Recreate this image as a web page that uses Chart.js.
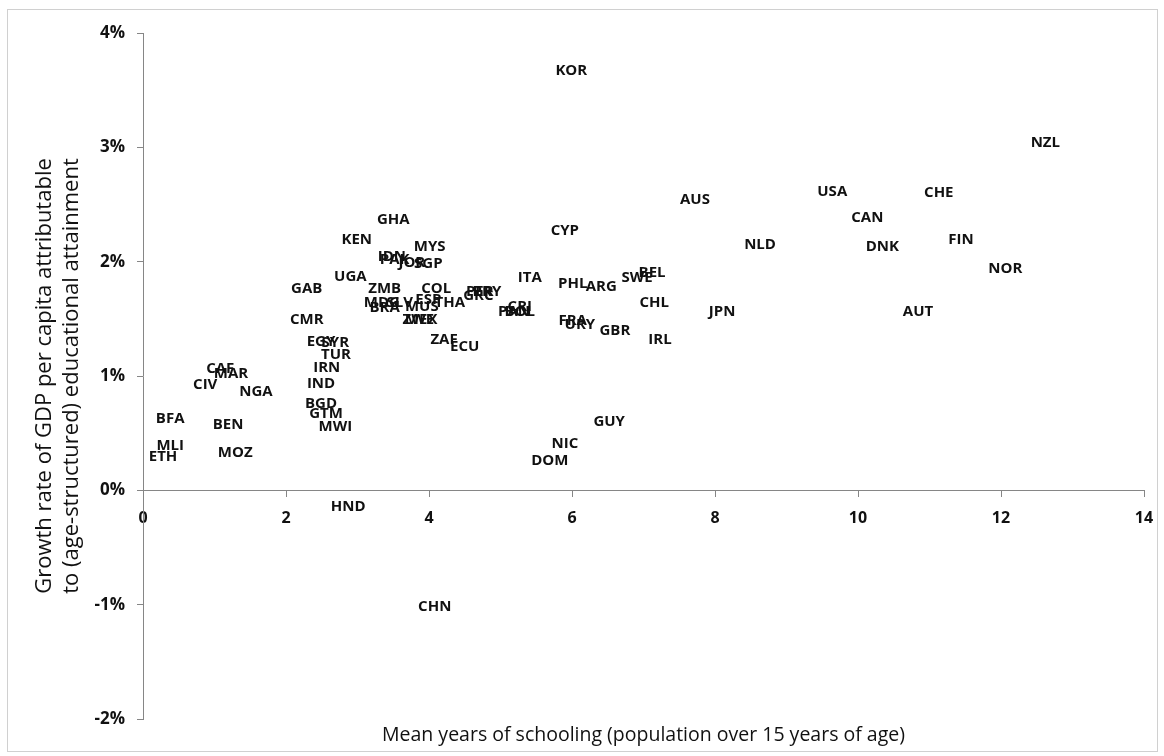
<!DOCTYPE html>
<html>
<head>
<meta charset="utf-8">
<title>Growth rate of GDP per capita vs mean years of schooling</title>
<script src="https://cdn.jsdelivr.net/npm/chart.js@4"></script>
<style>
  html, body { margin: 0; padding: 0; background: #fff; }
  canvas { display: block; }
</style>
</head>
<body>
<canvas id="schoolingChart" width="1164" height="756"></canvas>
<script>
// Country codes, mean years of schooling and growth rate (%)
const countries = [
  "KOR", "NZL", "USA", "CHE", "AUS", "CAN", "CYP", "NLD", "DNK", "FIN",
  "NOR", "AUT", "JPN", "CHL", "SWE", "BEL", "IRL", "GBR", "FRA", "URY",
  "PHL", "ARG", "ITA", "GUY", "NIC", "DOM", "CHN", "HND", "GHA", "KEN",
  "IDN", "PAK", "MYS", "JOR", "SGP", "UGA", "GAB", "ZMB", "COL", "ESP",
  "THA", "MDG", "BRA", "SLV", "MUS", "ZWE", "MEX", "PER", "PRY", "GRC",
  "CRI", "PAN", "BOL", "CMR", "EGY", "SYR", "TUR", "ZAF", "ECU", "IRN",
  "IND", "BGD", "GTM", "MWI", "CAF", "MAR", "CIV", "NGA", "BFA", "BEN",
  "MLI", "ETH", "MOZ"
];
const schoolingYears = [
  5.99, 12.62, 9.64, 11.13, 7.72, 10.13, 5.90, 8.63, 10.34, 11.44,
  12.06, 10.84, 8.10, 7.15, 6.91, 7.12, 7.23, 6.60, 6.01, 6.11,
  6.01, 6.41, 5.41, 6.52, 5.90, 5.69, 4.08, 2.87, 3.50, 2.99,
  3.48, 3.52, 4.01, 3.76, 3.99, 2.90, 2.29, 3.38, 4.10, 3.99,
  4.29, 3.34, 3.38, 3.59, 3.90, 3.85, 3.89, 4.71, 4.81, 4.69,
  5.27, 5.19, 5.27, 2.29, 2.49, 2.69, 2.70, 4.21, 4.50, 2.57,
  2.49, 2.49, 2.56, 2.69, 1.08, 1.23, 0.87, 1.58, 0.38, 1.19,
  0.38, 0.28, 1.29
];
const growthRate = [
  3.67, 3.04, 2.61, 2.60, 2.54, 2.38, 2.27, 2.15, 2.13, 2.19,
  1.94, 1.56, 1.56, 1.64, 1.86, 1.90, 1.32, 1.40, 1.48, 1.45,
  1.81, 1.78, 1.86, 0.60, 0.41, 0.26, -1.02, -0.14, 2.37, 2.19,
  2.04, 2.02, 2.13, 1.99, 1.98, 1.87, 1.76, 1.76, 1.76, 1.67,
  1.64, 1.64, 1.60, 1.64, 1.61, 1.49, 1.49, 1.74, 1.74, 1.70,
  1.61, 1.56, 1.56, 1.49, 1.30, 1.29, 1.19, 1.32, 1.26, 1.07,
  0.93, 0.76, 0.67, 0.56, 1.06, 1.02, 0.92, 0.86, 0.63, 0.57,
  0.39, 0.29, 0.33
];

// Axis ranges and tick steps
const xRange = [0, 14];
const xStep = 2;
const yRange = [-2, 4];
const yStep = 1;

const xTitle = "Mean years of schooling (population over 15 years of age)";
const yTitle = [
  "Growth rate of GDP per capita attributable",
  "to (age-structured) educational attainment"
];

const axisColor = "#868686";
const textColor = "#111";

// Outer frame like the Excel chart border
const framePlugin = {
  id: "frame",
  beforeDraw(chart) {
    const c = chart.ctx;
    c.save();
    c.fillStyle = "#fff";
    c.fillRect(0, 0, chart.width, chart.height);
    c.strokeStyle = "#d0d0d0";
    c.lineWidth = 1;
    c.strokeRect(7.5, 9.5, 1150, 742);
    c.restore();
  }
};

// Country codes drawn in place of markers, plus the x title at the bottom
const labelPlugin = {
  id: "pointLabels",
  afterDatasetsDraw(chart) {
    const c = chart.ctx;
    const meta = chart.getDatasetMeta(0);
    c.save();
    c.font = "bold 15px 'Open Sans'";
    c.fillStyle = textColor;
    c.textAlign = "center";
    c.textBaseline = "middle";
    meta.data.forEach((pt, i) => {
      c.fillText(countries[i], pt.x, pt.y);
    });

    const area = chart.chartArea;
    c.font = "19.5px 'Open Sans'";
    c.fillText(xTitle, (area.left + area.right) / 2, area.bottom + 16);
    c.restore();
  }
};

document.addEventListener("DOMContentLoaded", () => {
  const ctx = document.getElementById("schoolingChart").getContext("2d");

  const points = schoolingYears.map((x, i) => ({ x: x, y: growthRate[i] }));

  new Chart(ctx, {
    type: "scatter",
    data: {
      datasets: [
        {
          label: "Countries",
          data: points,
          pointRadius: 0,
          pointHoverRadius: 0,
        },
      ],
    },
    options: {
      responsive: false,
      animation: false,
      layout: {
        padding: { top: 33, right: 20, bottom: 37, left: 0 },
      },
      plugins: {
        legend: { display: false },
        tooltip: { enabled: false },
      },
      scales: {
        x: {
          type: "linear",
          position: { y: 0 },
          min: xRange[0],
          max: xRange[1],
          afterFit(scale) {
            scale.paddingLeft = 0;
            scale.paddingRight = 0;
          },
          ticks: {
            stepSize: xStep,
            color: textColor,
            padding: 13,
            font: { family: "'Open Sans'", size: 16, weight: "bold" },
          },
          grid: {
            drawOnChartArea: false,
            tickLength: 6,
            color: axisColor,
          },
          border: { color: axisColor },
        },
        y: {
          type: "linear",
          position: "left",
          min: yRange[0],
          max: yRange[1],
          afterFit(scale) {
            scale.width = 143;
          },
          ticks: {
            stepSize: yStep,
            color: textColor,
            padding: 12,
            font: { family: "'Open Sans'", size: 17, weight: "bold" },
            callback: value => value + "%",
          },
          grid: {
            drawOnChartArea: false,
            tickLength: 6,
            color: axisColor,
          },
          border: { color: axisColor },
          title: {
            display: true,
            text: yTitle,
            color: textColor,
            font: { family: "'Open Sans'", size: 22, weight: "normal", lineHeight: 1.23 },
            padding: { top: 31, bottom: 0 },
          },
        },
      },
    },
    plugins: [framePlugin, labelPlugin],
  });
});
</script>
</body>
</html>
